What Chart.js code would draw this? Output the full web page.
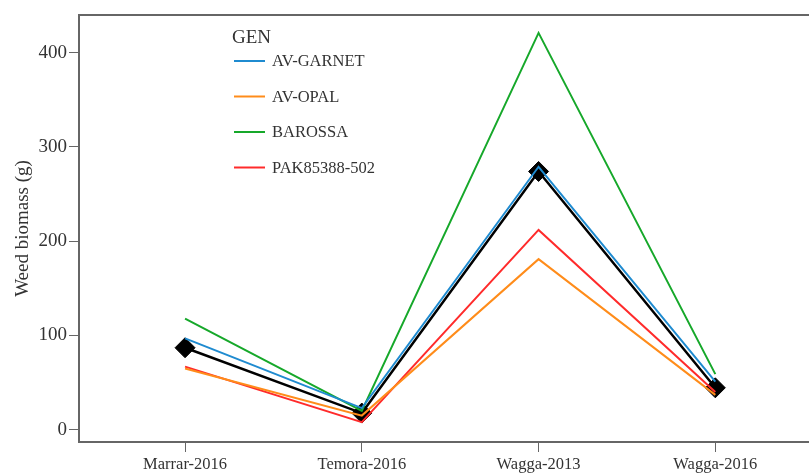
<!DOCTYPE html>
<html>
<head>
<meta charset="utf-8">
<script src="https://cdn.jsdelivr.net/npm/chart.js@4/dist/chart.umd.min.js"></script>
<style>
  html, body { margin: 0; padding: 0; background: #fff; overflow: hidden; }
  #wrap { width: 809px; height: 475px; position: relative; }
</style>
</head>
<body>
<div id="wrap"><canvas id="c"></canvas></div>
<script>
// Sites (x categories) and weed biomass (g) per genotype
const sites = ['Marrar-2016', 'Temora-2016', 'Wagga-2013', 'Wagga-2016'];
const avGarnet   = [97, 23, 279, 51];
const avOpal     = [65, 15, 181, 37];
const barossa    = [118, 20, 421, 59];
const pak85388   = [67, 8, 212, 40];
const meanAll    = [87, 17.7, 274, 44.5];
const yTicks     = [0, 100, 200, 300, 400];

const genotypes = ['AV-GARNET', 'AV-OPAL', 'BAROSSA', 'PAK85388-502'];
const genColors = ['#1f8bd0', '#ff8c1a', '#16a82a', '#ff2b2b'];
const genValues = [avGarnet, avOpal, barossa, pak85388];

const toPoints = vals => vals.map((v, i) => ({ x: i, y: v }));

const datasets = genValues.map((vals, k) => ({
  label: genotypes[k],
  data: toPoints(vals),
  borderColor: genColors[k],
  backgroundColor: genColors[k],
  borderWidth: 2,
  pointRadius: 0,
  tension: 0
}));
datasets.push({
  label: 'Mean',
  data: toPoints(meanAll),
  borderColor: '#000',
  backgroundColor: '#000',
  borderWidth: 2.5,
  pointStyle: 'rectRot',
  pointRadius: 10,
  pointBorderWidth: 1,
  tension: 0
});

const serif = '"Liberation Serif", "DejaVu Serif", serif';

// Frame line along the top of the plot area
const topFrame = {
  id: 'topFrame',
  afterDraw(chart) {
    const { ctx, chartArea } = chart;
    ctx.save();
    ctx.strokeStyle = '#666';
    ctx.lineWidth = 2;
    ctx.beginPath();
    ctx.moveTo(chartArea.left - 1, chartArea.top);
    ctx.lineTo(chartArea.right + 2, chartArea.top);
    ctx.stroke();
    ctx.restore();
  }
};

// Legend box with title drawn inside the plot area
const genLegend = {
  id: 'genLegend',
  afterDraw(chart, args, opts) {
    const { ctx, chartArea } = chart;
    const x0 = chartArea.left + opts.dx;
    const y0 = chartArea.top + opts.dy;
    ctx.save();
    ctx.fillStyle = '#333';
    ctx.textBaseline = 'middle';
    ctx.textAlign = 'left';
    ctx.font = '19px ' + serif;
    ctx.fillText(opts.title, x0 - 1, y0);
    ctx.font = '16.5px ' + serif;
    genotypes.forEach((name, k) => {
      const y = y0 + opts.first + k * opts.step;
      ctx.strokeStyle = genColors[k];
      ctx.lineWidth = 2;
      ctx.beginPath();
      ctx.moveTo(x0 + 1, y);
      ctx.lineTo(x0 + 32, y);
      ctx.stroke();
      ctx.fillText(name, x0 + 39, y + 1);
    });
    ctx.restore();
  }
};

new Chart(document.getElementById('c'), {
  type: 'line',
  data: { datasets },
  plugins: [topFrame, genLegend],
  options: {
    responsive: true,
    maintainAspectRatio: false,
    animation: false,
    layout: { autoPadding: false, padding: { top: 15, right: 0, left: 0, bottom: 0 } },
    plugins: {
      legend: { display: false },
      tooltip: { enabled: false },
      genLegend: { title: 'GEN', dx: 154, dy: 23, first: 23, step: 35.5 }
    },
    scales: {
      x: {
        type: 'linear',
        min: -0.6,
        max: 3.53,
        afterBuildTicks: s => { s.ticks = sites.map((_, i) => ({ value: i })); },
        afterFit: s => { s.height = 33; },
        grid: { display: true, drawOnChartArea: false, drawTicks: true, tickLength: 10, color: '#666', lineWidth: 1 },
        border: { display: true, color: '#666', width: 2 },
        ticks: {
          callback: v => sites[v] ?? '',
          color: '#333',
          font: { family: serif, size: 16.5 },
          padding: 3,
          maxRotation: 0,
          autoSkip: false
        }
      },
      y: {
        min: -13,
        max: 440,
        afterBuildTicks: s => { s.ticks = yTicks.map(v => ({ value: v })); },
        afterFit: s => { s.width = 79; },
        grid: { display: true, drawOnChartArea: false, drawTicks: true, tickLength: 10, color: '#666', lineWidth: 1 },
        border: { display: true, color: '#666', width: 2 },
        ticks: {
          color: '#333',
          font: { family: serif, size: 19 },
          padding: 2
        },
        title: {
          display: true,
          text: 'Weed biomass (g)',
          color: '#333',
          font: { family: serif, size: 19 },
          padding: { top: 12, bottom: 0 }
        }
      }
    }
  }
});
</script>
</body>
</html>
